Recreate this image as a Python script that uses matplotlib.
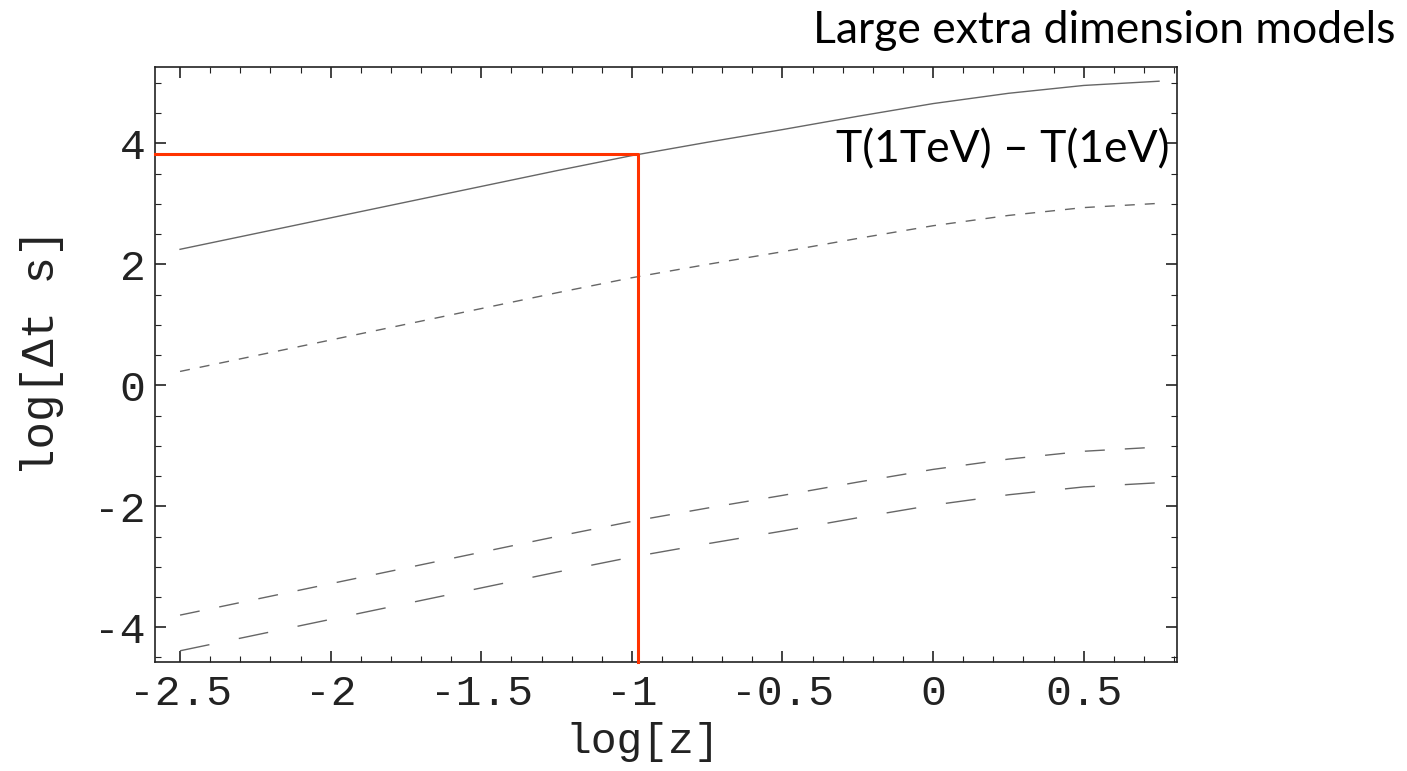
import matplotlib.pyplot as plt
from matplotlib.ticker import MultipleLocator

# log[z] sample points
log_z = [-2.5, -2.25, -2.0, -1.75, -1.5, -1.25, -1.0, -0.75, -0.5, -0.25, 0.0, 0.25, 0.5, 0.75]

# log[dt s] for the four curves
solid = [2.25, 2.51, 2.77, 3.03, 3.29, 3.55, 3.80, 4.02, 4.23, 4.45, 4.66, 4.83, 4.96, 5.03]
short_dash = [0.23, 0.49, 0.75, 1.01, 1.27, 1.53, 1.78, 2.00, 2.21, 2.43, 2.64, 2.81, 2.94, 3.01]
mid_dash = [-3.80, -3.54, -3.28, -3.02, -2.76, -2.50, -2.25, -2.03, -1.82, -1.60, -1.39, -1.22, -1.09, -1.02]
long_dash = [-4.39, -4.13, -3.87, -3.61, -3.35, -3.09, -2.84, -2.62, -2.41, -2.19, -1.98, -1.81, -1.68, -1.61]

# highlighted point (red guide lines)
mark_x = -0.98
mark_y = 3.83

xticks = [-2.5, -2, -1.5, -1, -0.5, 0, 0.5]
xtick_labels = ['-2.5', '-2', '-1.5', '-1', '-0.5', '0', '0.5']
yticks = [-4, -2, 0, 2, 4]
ytick_labels = ['-4', '-2', '0', '2', '4']

mono = 'Liberation Mono'
sans = 'Lato'

fig = plt.figure(figsize=(14.07, 7.71), dpi=100)
ax = fig.add_axes([0.1102, 0.1418, 0.7264, 0.7709])

gray = '#666666'
ax.plot(log_z, solid, color=gray, lw=1.0)
ax.plot(log_z, short_dash, color=gray, lw=1.0, dashes=(7.2, 7.2))
ax.plot(log_z, mid_dash, color=gray, lw=1.0, dashes=(14.4, 14.4))
ax.plot(log_z, long_dash, color=gray, lw=1.0, dashes=(21.6, 21.6))

xmin, xmax = -2.583, 0.81
ymin, ymax = -4.57, 5.26
ax.set_xlim(xmin, xmax)
ax.set_ylim(ymin, ymax)

# red guide lines
ax.plot([xmin, mark_x, mark_x], [mark_y, mark_y, ymin], color='#ff3300', lw=2.2,
        clip_on=False, zorder=5)

ax.set_xticks(xticks)
ax.set_xticklabels(xtick_labels)
ax.set_yticks(yticks)
ax.set_yticklabels(ytick_labels)
ax.xaxis.set_minor_locator(MultipleLocator(0.1))
ax.yaxis.set_minor_locator(MultipleLocator(0.5))
ax.tick_params(which='both', direction='in', top=True, right=True, color='#222222')
ax.tick_params(which='major', length=8, width=1.2, labelsize=31, labelcolor='#222222')
ax.tick_params(axis='x', which='major', pad=9)
ax.tick_params(axis='y', which='major', pad=7)
ax.tick_params(which='minor', length=4, width=0.8)
for lab in ax.get_xticklabels() + ax.get_yticklabels():
    lab.set_fontfamily(mono)
for s in ax.spines.values():
    s.set_color('#222222')
    s.set_linewidth(1.2)

ax.set_xlabel('log[z]', fontfamily=mono, fontsize=31, va='center', color='#222222')
ax.set_ylabel('log[\u0394t s]', fontfamily=mono, fontsize=33, va='center', color='#222222')
ax.xaxis.set_label_coords(0.477, -0.135)
ax.yaxis.set_label_coords(-0.111, 0.521)

ax.text(0.993, 3.68, 'T(1TeV) \u2013 T(1eV)', transform=ax.get_yaxis_transform(),
        ha='right', va='baseline', fontfamily=sans, fontsize=32)
fig.text(0.9915, 0.961, 'Large extra dimension models', ha='right', va='center',
         fontfamily=sans, fontsize=32)

fig.savefig('out.png', dpi=100)
